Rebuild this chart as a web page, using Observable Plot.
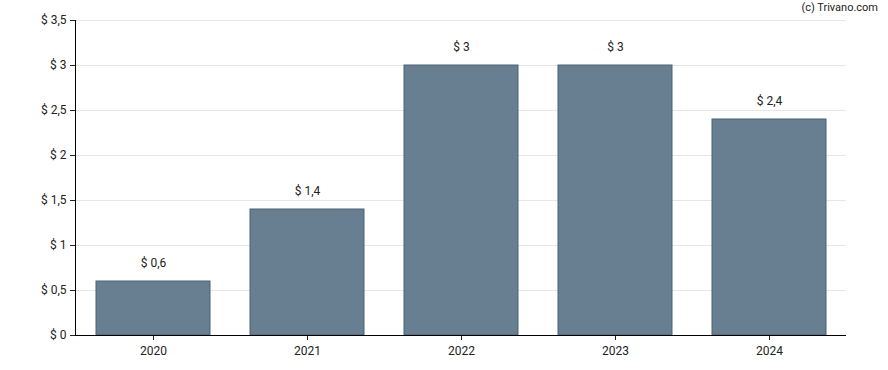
<!DOCTYPE html>
<html><head><meta charset="utf-8">
<script src="https://cdn.jsdelivr.net/npm/d3@7"></script>
<script src="https://cdn.jsdelivr.net/npm/@observablehq/plot@0.6"></script>
<style>
body{margin:0;background:#fff;font-family:Roboto,"Liberation Sans",sans-serif;}
#wrap{position:relative;width:888px;height:370px;}
#credit{position:absolute;right:10px;top:1px;font-size:11px;color:#222;}
</style></head>
<body><div id="wrap"><div id="credit">(c) Trivano.com</div></div>
<script>
const years = ["2020","2021","2022","2023","2024"];
const values = [0.6, 1.4, 3, 3, 2.4];
const yTicks = [0,0.5,1,1.5,2,2.5,3,3.5];
const data = years.map((y,i)=>({year:y, value:values[i]}));
const fmt = v => "$ " + String(v).replace(".", ",");
const chart = Plot.plot({
  width: 888, height: 370,
  marginLeft: 75, marginRight: 42, marginTop: 20, marginBottom: 35,
  style: {fontFamily: "Roboto, 'Liberation Sans', sans-serif", fontSize: "12px", color: "#222"},
  x: {domain: years, paddingInner: 0.26, paddingOuter: 0.13, label: null},
  y: {domain: [0, 3.5], ticks: yTicks, label: null},
  marks: [
    Plot.gridY(yTicks, {stroke: "#e6e6e6", strokeOpacity: 1}),
    Plot.barY(data, {x: "year", y: "value", fill: "#677f90", stroke: "#4b6475", strokeWidth: 1}),
    Plot.text(data, {x: "year", y: "value", text: d => fmt(d.value), dy: -18, fontSize: 12, fill: "#222"}),
    Plot.axisY({ticks: yTicks, tickFormat: fmt, tickSize: 5, fontSize: 12, tickPadding: 4}),
    Plot.axisX({tickSize: 5, fontSize: 12, tickPadding: 6}),
    Plot.ruleY([0], {stroke: "#000"}),
    Plot.frame({anchor: "left", stroke: "#000"})
  ]
});
document.getElementById("wrap").appendChild(chart);
</script></body></html>
